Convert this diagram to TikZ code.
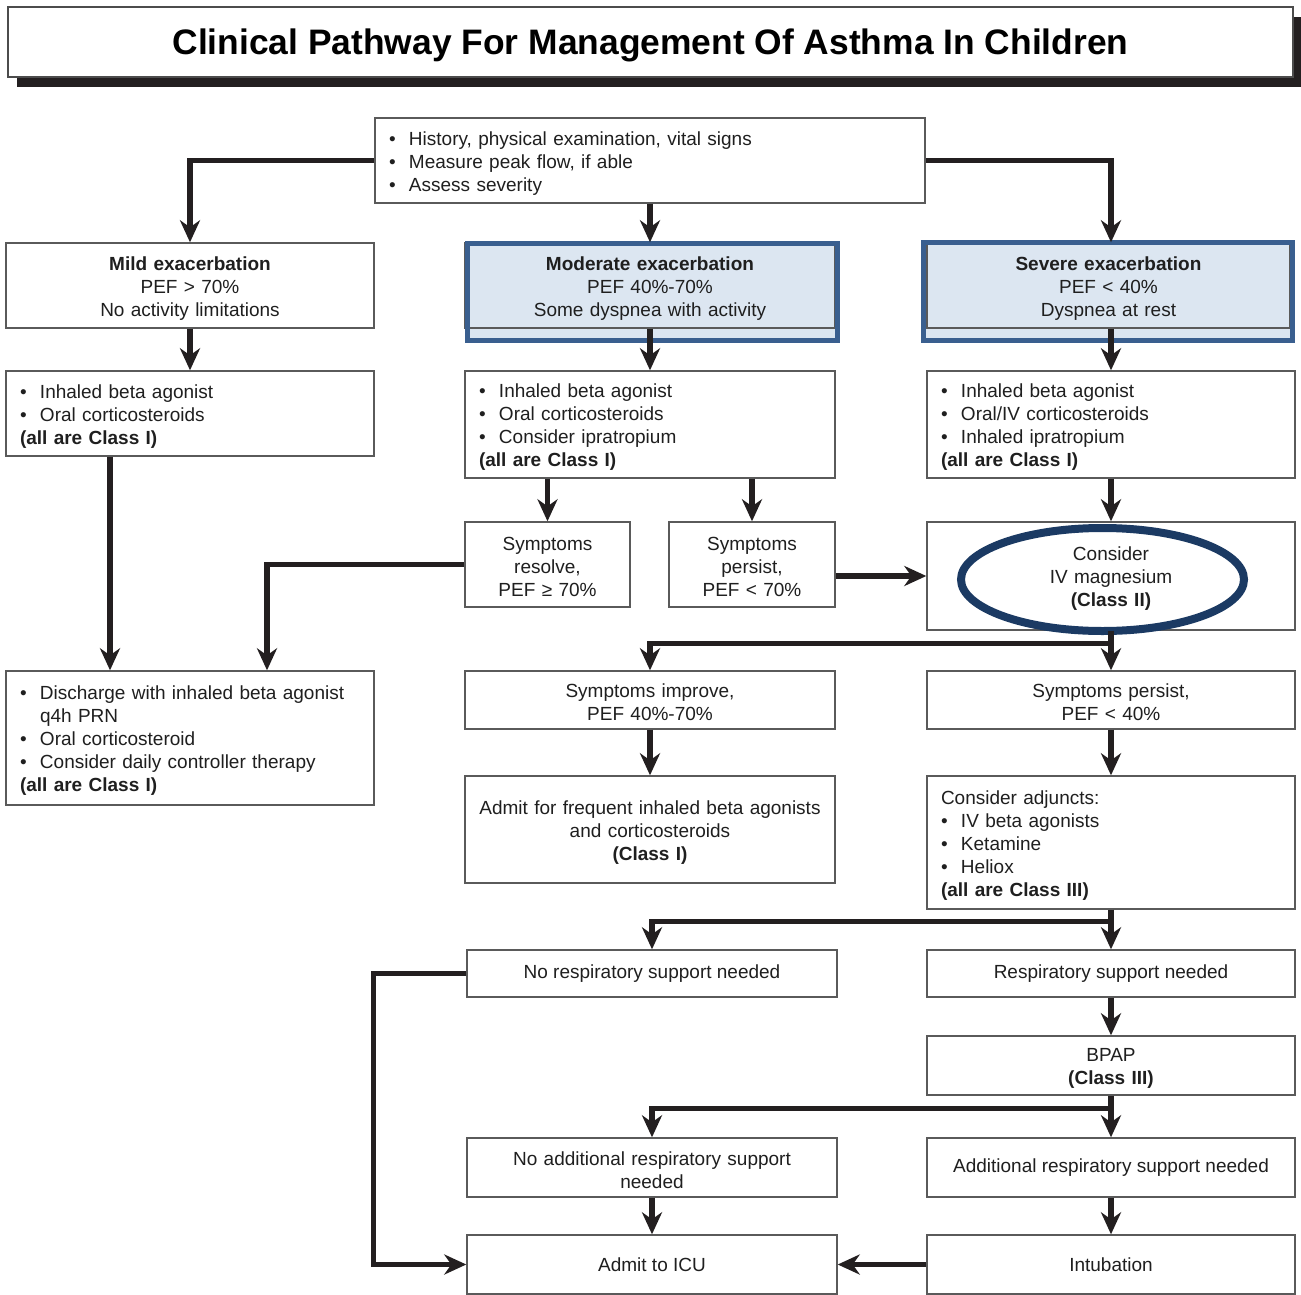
\documentclass[tikz,border=0pt]{standalone}
\usepackage{fontspec}
\setmainfont{Liberation Sans}
\usetikzlibrary{arrows.meta,backgrounds,shadows}
\definecolor{ink}{HTML}{231F20}
\definecolor{boxline}{HTML}{5A5A5A}
\definecolor{paleblue}{HTML}{DCE6F1}
\definecolor{frameblue}{HTML}{3A5F8F}
\definecolor{ringblue}{HTML}{1B3A63}
\newcommand{\bitem}{\makebox[10pt][l]{\textbullet}}
\tikzset{
pbox/.style={draw=boxline,line width=0.7pt,fill=white,inner xsep=7pt,inner ysep=0pt,font=\fontsize{9.5}{11.5}\selectfont,text=black!88},
lift/.style={execute at begin node={\rule{0pt}{9.5pt}}},
onebox/.style={pbox,align=center},
cbox/.style={pbox,lift,align=center,text width=#1},
lbox/.style={pbox,lift,align=left},
hdr/.style={cbox=#1,fill=paleblue},
flow/.style={-{Stealth[length=11pt,width=10pt,inset=3.5pt]},line width=2.6pt,draw=ink},
bluefr/.style={draw=frameblue,line width=2.5pt},
ring/.style={draw=ringblue,line width=4pt},
titlebox/.style={draw=black!70,line width=0.8pt,fill=white,font=\fontsize{17.7}{20}\selectfont\bfseries,
  execute at begin node={\rule{0pt}{16pt}},
  drop shadow={shadow xshift=4.5pt,shadow yshift=-5pt,fill=ink,opacity=1}}
}

\begin{document}
\begin{tikzpicture}[x=0.5pt,y=-0.5pt]
\useasboundingbox (0,0) rectangle (1301,1295);

\node (title) [titlebox,minimum width=642.5pt,minimum height=35pt] at (650.5,42) {Clinical Pathway For Management Of Asthma In Children};

% assessment and severity
\node (top) [lbox,minimum height=42.5pt,text width=261pt] at (650,160.5) {\bitem History, physical examination, vital signs\\ \bitem Measure peak flow, if able\\ \bitem Assess severity};
\node (mild) [cbox=170pt,minimum height=42.5pt] at (190,285.5) {\textbf{Mild exacerbation}\\PEF > 70\%\\No activity limitations};
\node (mod) [hdr=171pt,minimum height=42.5pt] at (650,285.5) {\textbf{Moderate exacerbation}\\PEF 40\%-70\%\\Some dyspnea with activity};
\node (sev) [hdr=167.5pt,minimum height=42.5pt] at (1108.5,285.5) {\textbf{Severe exacerbation}\\PEF < 40\%\\Dyspnea at rest};

\begin{scope}[on background layer]
\fill[paleblue] (467.5,243) rectangle (837.5,340.5);
\fill[paleblue] (923,242.5) rectangle (1292.5,340.5);
\end{scope}
\draw[bluefr] (467.5,243) rectangle (837.5,340.5);
\draw[bluefr] (923,242.5) rectangle (1292.5,340.5);

% first treatment
\node (mildtx) [lbox,minimum height=42.5pt,text width=170pt] at (190,413.5) {\bitem Inhaled beta agonist\\ \bitem Oral corticosteroids\\ \textbf{(all are Class I)}};
\node (modtx) [lbox,minimum height=53.5pt,text width=171pt] at (650,424.5) {\bitem Inhaled beta agonist\\ \bitem Oral corticosteroids\\ \bitem Consider ipratropium\\ \textbf{(all are Class I)}};
\node (sevtx) [lbox,minimum height=53.5pt,text width=170pt] at (1111,424.5) {\bitem Inhaled beta agonist\\ \bitem Oral/IV corticosteroids\\ \bitem Inhaled ipratropium\\ \textbf{(all are Class I)}};

\node (resolve) [cbox=68.5pt,minimum height=42.5pt] at (547.5,564.5) {Symptoms\\resolve,\\PEF ≥ 70\%};
\node (persist) [cbox=69pt,minimum height=42.5pt] at (752,564.5) {Symptoms\\persist,\\PEF < 70\%};
\node (magnes) [cbox=170pt,minimum height=54pt] at (1111,576) {Consider\\IV magnesium\\\textbf{(Class II)}};
\draw[ring] ([xshift=-4.25pt,yshift=-1.75pt]magnes.center) ellipse [x radius=70.75pt,y radius=25.75pt];

\node (discharge) [lbox,minimum height=67pt,text width=170pt] at (190,738) {\bitem Discharge with inhaled beta agonist\\ \hspace*{10pt}q4h PRN\\ \bitem Oral corticosteroid\\ \bitem Consider daily controller therapy\\ \textbf{(all are Class I)}};
\node (improve) [cbox=171pt,minimum height=29pt] at (650,700) {Symptoms improve,\\PEF 40\%-70\%};
\node (persist40) [cbox=170pt,minimum height=29pt] at (1111,700) {Symptoms persist,\\PEF < 40\%};
\node (admit) [cbox=171pt,minimum height=53.5pt] at (650,829.5) {Admit for frequent inhaled beta agonists\\and corticosteroids\\\textbf{(Class I)}};
\node (adjunct) [lbox,minimum height=66.5pt,text width=170pt] at (1111,842.5) {Consider adjuncts:\\ \bitem IV beta agonists\\ \bitem Ketamine\\ \bitem Heliox\\ \textbf{(all are Class III)}};

% respiratory support
\node (noresp) [onebox,minimum width=185pt,minimum height=23.5pt] at (652,973.5) {No respiratory support needed};
\node (resp) [onebox,minimum width=184pt,minimum height=23.5pt] at (1111,973.5) {Respiratory support needed};
\node (bpap) [cbox=170pt,minimum height=29.5pt] at (1111,1065.5) {BPAP\\\textbf{(Class III)}};
\node (noadd) [cbox=171pt,minimum height=29.5pt] at (652,1167.5) {No additional respiratory support\\needed};
\node (addl) [onebox,minimum width=184pt,minimum height=29.5pt] at (1111,1167.5) {Additional respiratory support needed};
\node (icu) [onebox,minimum width=185pt,minimum height=29.5pt] at (652,1264.5) {Admit to ICU};
\node (intub) [onebox,minimum width=184pt,minimum height=29.5pt] at (1111,1264.5) {Intubation};

% connectors
\draw[flow] (top.west) -| (mild.north);
\draw[flow] (top.south) -- (mod.north);
\draw[flow] (top.east) -| (sevtx.north |- sev.north);
\draw[flow] (mild) -- (mildtx);
\draw[flow] (mod.south) -- (modtx.north);
\draw[flow] (sevtx.north |- sev.south) -- (sevtx.north);
\draw[flow] ([xshift=-40pt]mildtx.south) -- ([xshift=-40pt]discharge.north);
\draw[flow] (modtx.south -| resolve.north) -- (resolve.north);
\draw[flow] (modtx.south -| persist.north) -- (persist.north);
\draw[flow] (sevtx) -- (magnes);
\draw[flow] (resolve.west) -| ([xshift=38.5pt]discharge.north);
\draw[flow] (persist.east |- magnes.west) -- (magnes.west);
\draw[flow] (magnes.south) -- (persist40.north);
\draw[flow] ([yshift=-6.5pt]magnes.south) -| (improve.north);
\draw[flow] (improve) -- (admit);
\draw[flow] (persist40) -- (adjunct);
\draw[flow] (adjunct.south) -- (resp.north);
\draw[flow] ([yshift=-6pt]adjunct.south) -| (noresp.north);
\draw[flow] (noresp.west) -- ++(-46.5pt,0) |- (icu.west);
\draw[flow] (resp) -- (bpap);
\draw[flow] (bpap.south) -- (addl.north);
\draw[flow] ([yshift=-6.5pt]bpap.south) -| (noadd.north);
\draw[flow] (noadd) -- (icu);
\draw[flow] (addl) -- (intub);
\draw[flow] (intub) -- (icu);
\end{tikzpicture}
\end{document}
